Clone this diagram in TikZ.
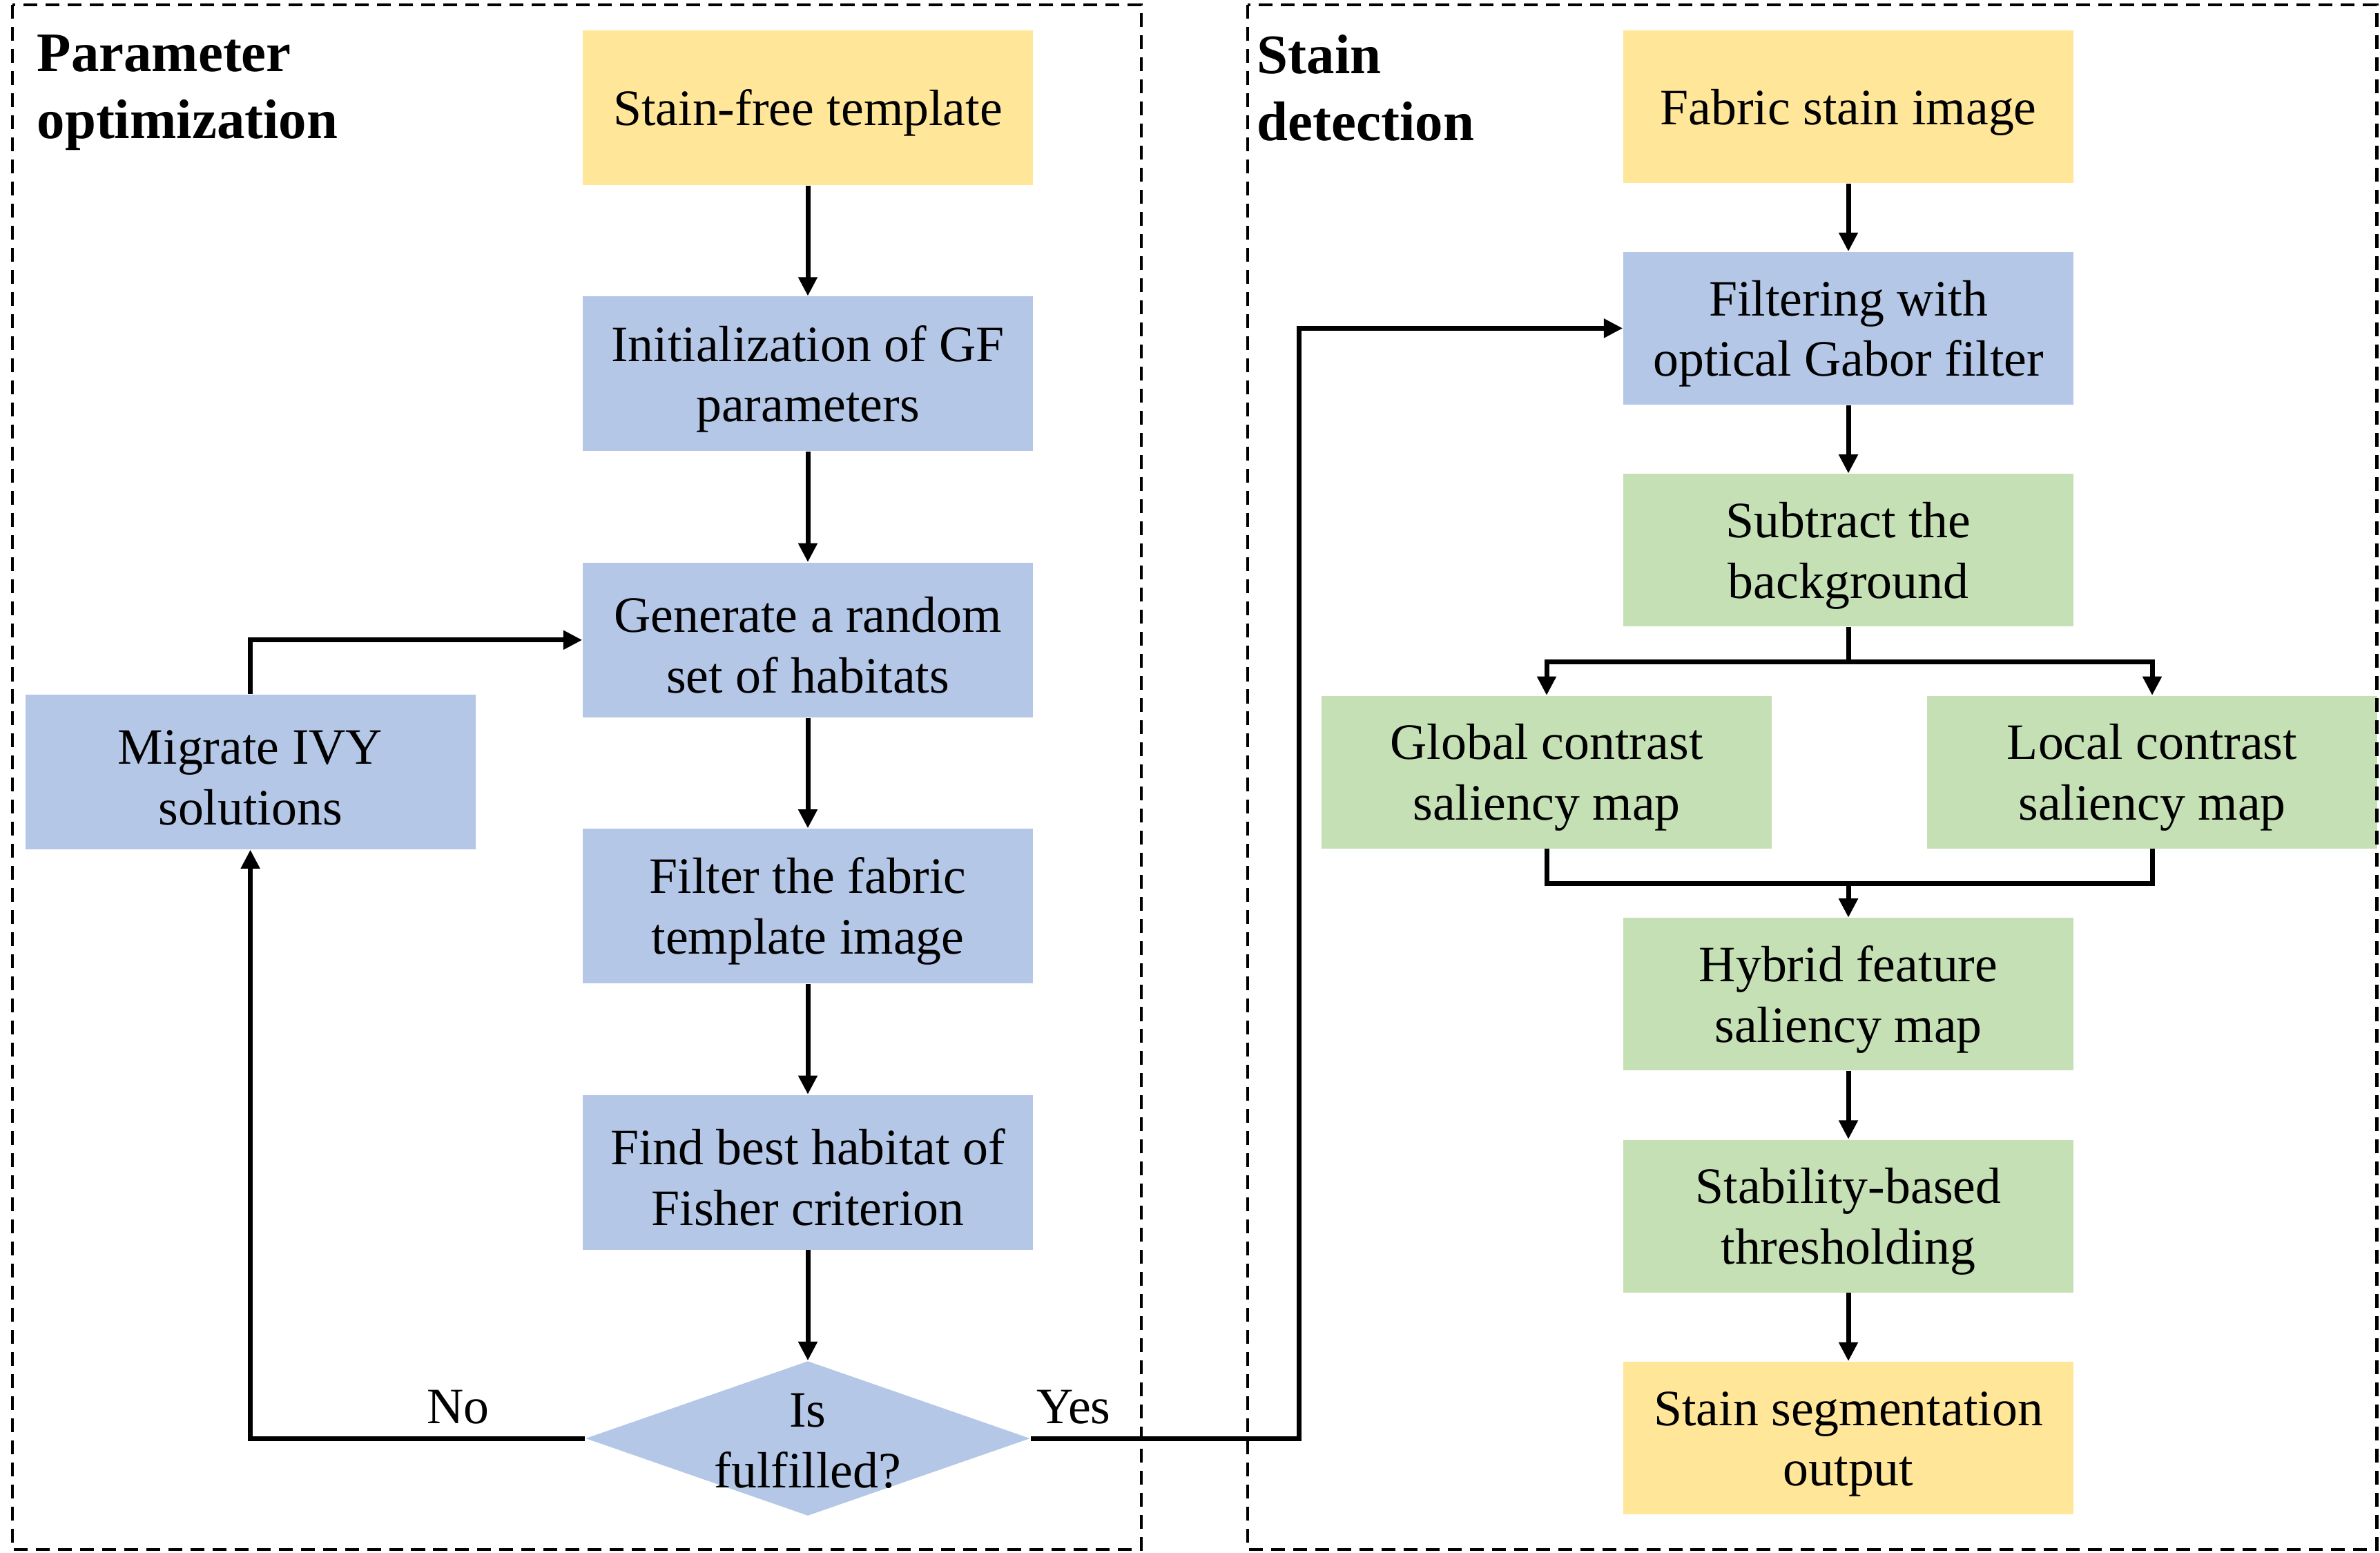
\documentclass[tikz,border=0pt]{standalone}
\usepackage{fontspec}
\setmainfont{Liberation Serif}
\usetikzlibrary{shapes.geometric, arrows.meta, positioning, calc}

\definecolor{boxyellow}{HTML}{FFE699}
\definecolor{boxblue}{HTML}{B4C7E7}
\definecolor{boxgreen}{HTML}{C5E0B4}

\begin{document}
\begin{tikzpicture}[
      node distance=1.6cm and 1.54cm,
      font=\fontsize{21}{25}\selectfont,
      box/.style={rectangle, minimum width=6.52cm, minimum height=2.24cm, inner sep=0pt, align=center, execute at begin node={\rule{0pt}{#1}}},
      box/.default=44pt,
      src/.style={box=#1, fill=boxyellow}, src/.default=44pt,
      proc/.style={box, fill=boxblue},
      sal/.style={box, fill=boxgreen, minimum height=2.21cm},
      decision/.style={diamond, fill=boxblue, minimum width=6.44cm, minimum height=2.24cm, inner sep=0pt, aspect=2.9},
      title/.style={anchor=north west, inner sep=0pt, align=left, font=\fontsize{23}{27.5}\selectfont\bfseries},
      frame/.style={line width=1.4pt, dash pattern=on 5.7pt off 3.4pt},
      arrow/.style={-{Triangle[length=7.8pt, width=7.5pt]}, line width=2pt}
    ]
    \useasboundingbox (0,0) rectangle (34.47,-22.49);

    % parameter optimization
    \node[src=19pt] (tpl) at (11.70,-1.56) {Stain-free template};
    \node[proc, below=of tpl] (init) {Initialization of GF\\parameters};
    \node[proc, below=of init] (gen) {Generate a random\\set of habitats};
    \node[proc, below=of gen] (filt) {Filter the fabric\\template image};
    \node[proc, below=of filt] (best) {Find best habitat of\\Fisher criterion};
    \node[decision, below=of best, label={[align=center, yshift=-1pt]center:Is\\fulfilled?}] (dec) {};
    \node[proc, left=of gen, yshift=-1.91cm] (mig) {Migrate IVY\\solutions};

    % stain detection
    \node[src=19pt, minimum height=2.21cm] (img) at (26.77,-1.55) {Fabric stain image};
    \node[proc, minimum height=2.21cm, below=0.98cm of img] (gab) {Filtering with\\optical Gabor filter};
    \node[sal, below=0.99cm of gab] (sub) {Subtract the\\background};
    \node[sal, below=0.99cm of sub, xshift=-4.37cm] (glob) {Global contrast\\saliency map};
    \node[sal, below=0.99cm of sub, xshift=4.40cm] (loc) {Local contrast\\saliency map};
    \node[sal, below=0.99cm of glob, xshift=4.37cm] (hyb) {Hybrid feature\\saliency map};
    \node[sal, below=0.99cm of hyb] (stab) {Stability-based\\thresholding};
    \node[src, minimum height=2.21cm, below=0.99cm of stab] (seg) {Stain segmentation\\output};

    \node[title] (ltitle) at (0.53,-0.50) {Parameter\\optimization};
    \node[title] (rtitle) at (18.20,-0.50) {Stain\\detection};

    \draw[arrow] (tpl) -- (init);
    \draw[arrow] (init) -- (gen);
    \draw[arrow] (gen) -- (filt);
    \draw[arrow] (filt) -- (best);
    \draw[arrow] (best) -- (dec);
    \draw[arrow] (dec.west) -| node[above, pos=0.19, yshift=1.5pt] {No} (mig.south);
    \draw[arrow] (mig.north) |- (gen.west);
    \draw[arrow] (dec.east) -- node[above, pos=0.16, yshift=1.5pt] {Yes} ++(3.89,0) |- (gab.west);

    \draw[arrow] (img) -- (gab);
    \draw[arrow] (gab) -- (sub);
    \draw[arrow] (sub.south) -- ++(0,-0.5) -| (glob.north);
    \draw[arrow] (sub.south) -- ++(0,-0.5) -| (loc.north);
    \draw[arrow] (glob.south) -- ++(0,-0.5) -| (hyb.north);
    \draw[arrow] (loc.south) -- ++(0,-0.5) -| (hyb.north);
    \draw[arrow] (hyb) -- (stab);
    \draw[arrow] (stab) -- (seg);

    \draw[frame] (0.18,-0.07) rectangle (16.53,-22.44);
    \draw[frame] (18.07,-0.07) rectangle (34.42,-22.44);
  \end{tikzpicture}
\end{document}
